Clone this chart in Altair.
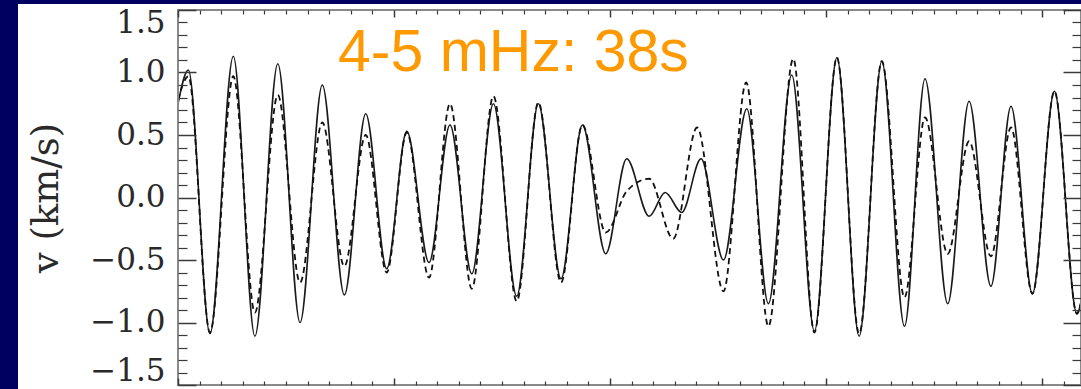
import altair as alt
import pandas as pd

# ---- data (time in s, velocity in km/s) ----
t_solid = [0, 48, 148, 256, 356, 462, 565, 668, 770, 869, 966, 1059, 1162, 1259, 1360,
           1460, 1568, 1668, 1773, 1872, 1980, 2077, 2181, 2255, 2332, 2421, 2525, 2633,
           2733, 2841, 2946, 3050, 3153, 3258, 3363, 3458, 3563, 3662, 3763, 3856, 3955,
           4057, 4161, 4180]
v_solid = [0.75, 1.02, -1.09, 1.13, -1.11, 1.07, -1.00, 0.90, -0.78, 0.67, -0.57, 0.53,
           -0.52, 0.58, -0.61, 0.75, -0.79, 0.75, -0.65, 0.58, -0.45, 0.31, -0.15, 0.04,
           -0.12, 0.31, -0.50, 0.71, -0.85, 0.98, -1.07, 1.12, -1.11, 1.09, -1.03, 0.95,
           -0.85, 0.77, -0.71, 0.73, -0.77, 0.85, -0.93, -0.84]

t_dash = [0, 48, 148, 256, 356, 462, 565, 668, 770, 869, 966, 1059, 1162, 1259, 1360,
          1460, 1568, 1668, 1773, 1872, 1980, 2077, 2181, 2292, 2403, 2525, 2630, 2733,
          2848, 2946, 3050, 3153, 3258, 3363, 3458, 3563, 3662, 3763, 3856, 3955, 4057,
          4161, 4180]
v_dash = [0.78, 0.97, -1.08, 0.97, -0.92, 0.82, -0.68, 0.60, -0.55, 0.50, -0.60, 0.52,
          -0.64, 0.75, -0.73, 0.81, -0.83, 0.76, -0.68, 0.58, -0.28, 0.05, 0.15, -0.33,
          0.56, -0.75, 0.92, -1.03, 1.11, -1.08, 1.12, -1.09, 1.09, -0.80, 0.64, -0.45,
          0.45, -0.47, 0.56, -0.77, 0.85, -0.93, -0.84]

y_major = [-1.5, -1.0, -0.5, 0.0, 0.5, 1.0, 1.5]
y_minor = [round(k * 0.1, 1) for k in range(-15, 16) if k % 5 != 0]
x_major = [0, 1000, 2000, 3000, 4000]
x_minor = [k * 100 for k in range(0, 42) if k % 10 != 0]

title_text = "4-5 mHz: 38s"
y_title = "v (km/s)"

# ---- layout ----
W, H = 903, 375
X_MAX = 4180
TICK_COLOR = "#3a3a3a"

solid_df = pd.DataFrame({"t": t_solid, "v": v_solid})
dash_df = pd.DataFrame({"t": t_dash, "v": v_dash})
one = pd.DataFrame({"a": [0]})

xs = alt.Scale(domain=[0, X_MAX], nice=False, zero=False)
ys = alt.Scale(domain=[-1.5, 1.5], nice=False, zero=False)


def tick_axis(orient, values, size, width=1.2):
    return alt.Axis(orient=orient, values=values, offset=-size, tickSize=size,
                    tickWidth=width, tickColor=TICK_COLOR, domain=False, grid=False,
                    labels=False, title=None, zindex=1)


ax_left = alt.Axis(
    orient="left", values=y_major, offset=-18, tickSize=18, tickWidth=1.5,
    tickColor=TICK_COLOR, domain=False, grid=False, labelPadding=13,
    labelFont="DejaVu Serif", labelFontSize=31, labelColor="#2a2a2a",
    labelExpr="replace(format(datum.value, '.1f'), '-', '\u2212')",
    labelFlush=True, labelFlushOffset=2,
    title=y_title, titleFont="DejaVu Serif", titleFontSize=37,
    titleFontWeight="normal", titleColor="#2a2a2a", titlePadding=24, zindex=1)

bg = alt.Chart(one).mark_rect(color="white").encode(
    x=alt.value(-160), x2=alt.value(W + 10), y=alt.value(-6), y2=alt.value(H + 10))

solid = alt.Chart(solid_df).mark_line(
    interpolate="monotone", color="#1a1a1a", strokeWidth=1.6, clip=True
).encode(
    x=alt.X("t:Q", scale=xs, axis=tick_axis("bottom", x_major, 7, 1.5)),
    y=alt.Y("v:Q", scale=ys, axis=ax_left))

dash = alt.Chart(dash_df).mark_line(
    interpolate="monotone", color="#111111", strokeWidth=1.8, strokeDash=[6, 4], clip=True
).encode(
    x=alt.X("t:Q", scale=xs, axis=tick_axis("bottom", x_minor, 4)),
    y=alt.Y("v:Q", scale=ys, axis=tick_axis("left", y_minor, 9)))

ghost1 = alt.Chart(solid_df).mark_line(opacity=0).encode(
    x=alt.X("t:Q", scale=xs, axis=tick_axis("top", x_major, 7, 1.5)),
    y=alt.Y("v:Q", scale=ys, axis=tick_axis("right", y_major, 18, 1.5)))

ghost2 = alt.Chart(solid_df).mark_line(opacity=0).encode(
    x=alt.X("t:Q", scale=xs, axis=tick_axis("top", x_minor, 4)),
    y=alt.Y("v:Q", scale=ys, axis=tick_axis("right", y_minor, 9)))

frame = alt.Chart(one).mark_rect(filled=False, stroke="#8a8a8a", strokeWidth=2).encode(
    x=alt.value(0), x2=alt.value(W), y=alt.value(0), y2=alt.value(H))

label = alt.Chart(one).mark_text(
    font="Liberation Sans", fontSize=59, color="#FF9900", align="left",
    baseline="alphabetic"
).encode(x=alt.value(160), y=alt.value(61), text=alt.value(title_text))

chart = alt.layer(bg, solid, dash, ghost1, ghost2, frame, label).resolve_axis(
    x="independent", y="independent"
).properties(
    width=W, height=H,
    padding={"left": 178, "top": 10, "right": 0, "bottom": 4},
    autosize=alt.AutoSizeParams(type="none"),
    background="#000060",
).configure_view(stroke=None)

chart.save("out.html", embed_options={"renderer": "svg", "actions": False})
